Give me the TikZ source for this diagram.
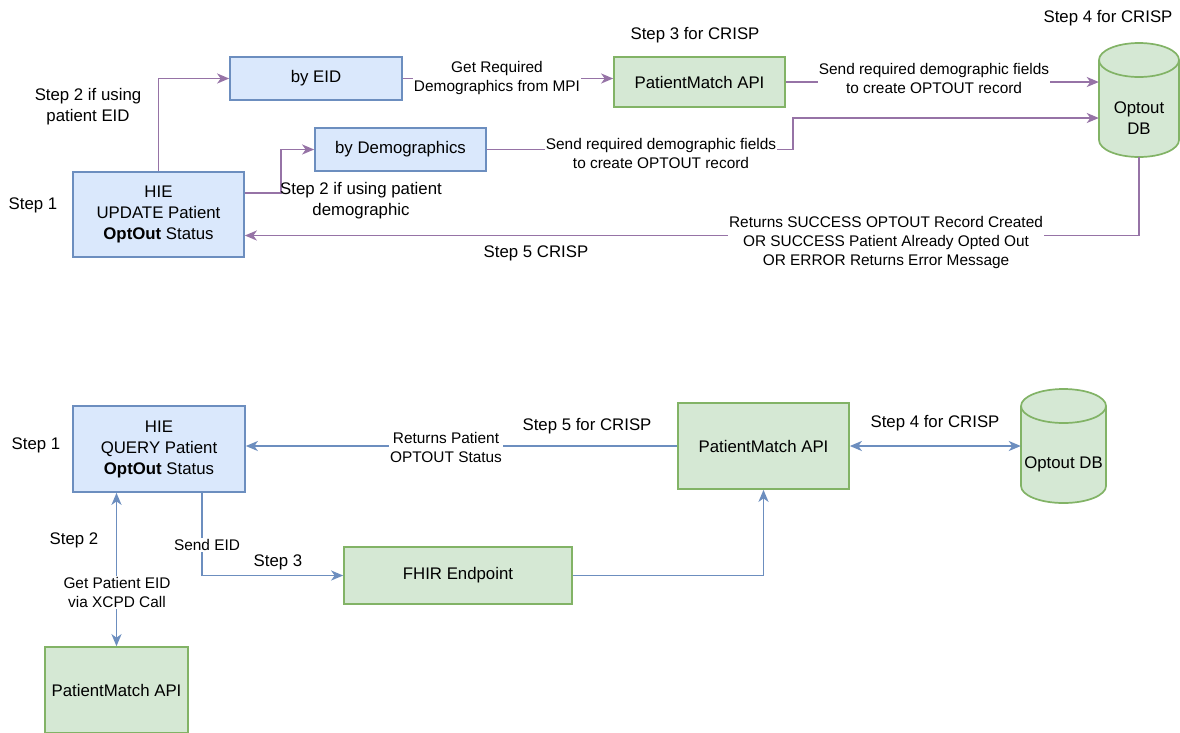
\documentclass[tikz,border=0pt]{standalone}
\usepackage{fontspec}
\setmainfont{Liberation Sans}
\usetikzlibrary{arrows.meta}
\definecolor{bfill}{HTML}{DAE8FC}
\definecolor{bstroke}{HTML}{6C8EBF}
\definecolor{gfill}{HTML}{D5E8D4}
\definecolor{gstroke}{HTML}{82B366}
\definecolor{purp}{HTML}{9673A6}
\newcommand\nodefont{\fontsize{16.8}{21}\selectfont}
\newcommand\edgefont{\fontsize{15.4}{19}\selectfont}
\begin{document}
\begin{tikzpicture}[x=1pt,y=-1pt,
  bluebox/.style={draw=bstroke,fill=bfill,line width=1.7pt,align=center,font=\nodefont,inner sep=0pt},
  greenbox/.style={draw=gstroke,fill=gfill,line width=1.7pt,align=center,font=\nodefont,inner sep=0pt},
  anchorbox/.style={draw=none,inner sep=0pt},
  txt/.style={font=\nodefont,align=center,inner sep=0pt},
  lbl/.style={font=\edgefont,align=center,fill=white,inner sep=1pt},
  cylline/.style={draw=gstroke,fill=gfill,line width=1.7pt},
  tipstyle/.style={-{Stealth[length=12pt,width=10pt,inset=3.5pt]}},
  pline/.style={draw=purp,line width=1.8pt,tipstyle},
  bline/.style={draw=bstroke,line width=1.8pt,tipstyle},
  bdline/.style={draw=bstroke,line width=1.8pt,{Stealth[length=12pt,width=10pt,inset=3.5pt]}-{Stealth[length=12pt,width=10pt,inset=3.5pt]}}]
\useasboundingbox[fill=white] (0,0) rectangle (1180,732);

% ---------- top cylinder ----------
\filldraw[cylline] (1139,140) ellipse [x radius=40, y radius=17];
\fill[gfill] (1099,60) rectangle (1179,140);
\draw[cylline] (1099,60) -- (1099,140) (1179,60) -- (1179,140);
\filldraw[cylline] (1139,60) ellipse [x radius=40, y radius=17];
\node[anchorbox,minimum width=80pt,minimum height=114pt] (db1) at (1139,100) {};
\node[txt] (db1t) at (1139,118) {Optout\\DB};

% ---------- bottom cylinder ----------
\filldraw[cylline] (1063.5,486) ellipse [x radius=42.5, y radius=17];
\fill[gfill] (1021,406) rectangle (1106,486);
\draw[cylline] (1021,406) -- (1021,486) (1106,406) -- (1106,486);
\filldraw[cylline] (1063.5,406) ellipse [x radius=42.5, y radius=17];
\node[anchorbox,minimum width=85pt,minimum height=114pt] (db2) at (1063.5,446) {};
\node[txt] (db2t) at (1063.5,464) {Optout DB};

% ---------- top boxes ----------
\node[bluebox,minimum width=171pt,minimum height=85pt] (hie1) at (158.5,214.5) {HIE\\UPDATE Patient\\\textbf{OptOut} Status};
\node[bluebox,minimum width=172pt,minimum height=43pt] (byeid) at (316,78.5) {by EID};
\node[bluebox,minimum width=171pt,minimum height=43pt] (bydem) at (400.5,149.5) {by Demographics};
\node[greenbox,minimum width=171pt,minimum height=50pt] (pm1) at (699.5,82) {PatientMatch API};

% ---------- bottom boxes ----------
\node[bluebox,minimum width=172pt,minimum height=86pt] (hie2) at (159,449) {HIE\\QUERY Patient\\\textbf{OptOut} Status};
\node[greenbox,minimum width=171pt,minimum height=86pt] (pm2) at (763.5,446) {PatientMatch API};
\node[greenbox,minimum width=228pt,minimum height=57pt] (fhir) at (458,575.5) {FHIR Endpoint};
\node[greenbox,minimum width=143pt,minimum height=86pt] (pm3) at (116.5,690) {PatientMatch API};

% ---------- top connectors ----------
\draw[pline] (hie1.north) |- (byeid.west);
\draw[pline] ([yshift=21.5pt]hie1.east) -- ++(36,0) |- (bydem.west);
\draw[pline] (byeid.east) -- (pm1.west |- byeid.east);
\draw[pline] (pm1.east) -- (db1.west |- pm1.east);
\draw[pline] (bydem.east) -- ++(306,0) |- ([yshift=-18pt]db1.west);
\draw[pline] (db1.south) |- ([yshift=-21pt]hie1.east);

% ---------- bottom connectors ----------
\draw[bline] (pm2.west) -- (hie2.east |- pm2.west);
\draw[bdline] (pm2.east) -- (db2.west);
\draw[bdline] (pm3.north |- hie2.south) -- (pm3.north);
\draw[bline] ([xshift=43pt]hie2.south) |- (fhir.west);
\draw[bline] (fhir.east) -| (pm2.south);

% ---------- top labels ----------
\node[txt] (s1a) at (33,205) {Step 1};
\node[txt] (s2a) at (88,107) {Step 2 if using\\patient EID};
\node[txt] (s2b) at (361,201) {Step 2 if using patient\\demographic};
\node[lbl] (l1) at (497,78.5) {Get Required\\Demographics from MPI};
\node[txt] (s3a) at (695,35) {Step 3 for CRISP};
\node[txt] (s4a) at (1108,18) {Step 4 for CRISP};
\node[lbl] (l2) at (934,78.5) {Send required demographic fields\\to create OPTOUT record};
\node[lbl] (l3) at (661,153.5) {Send required demographic fields\\to create OPTOUT record};
\node[lbl] (l4) at (886,242.5) {Returns SUCCESS OPTOUT Record Created\\OR SUCCESS Patient Already Opted Out\\OR ERROR Returns Error Message};
\node[txt] (s5a) at (536,253) {Step 5 CRISP};

% ---------- bottom labels ----------
\node[txt] (s1b) at (36,445) {Step 1};
\node[lbl] (l5) at (446,447.5) {Returns Patient\\OPTOUT Status};
\node[txt] (s5b) at (587,426) {Step 5 for CRISP};
\node[txt] (s4b) at (935,423) {Step 4 for CRISP};
\node[txt] (s2c) at (74,540) {Step 2};
\node[lbl] (l6) at (117,592.5) {Get Patient EID\\via XCPD Call};
\node[lbl] (l7) at (207,545) {Send EID};
\node[txt] (s3b) at (278,562) {Step 3};
\end{tikzpicture}
\end{document}
